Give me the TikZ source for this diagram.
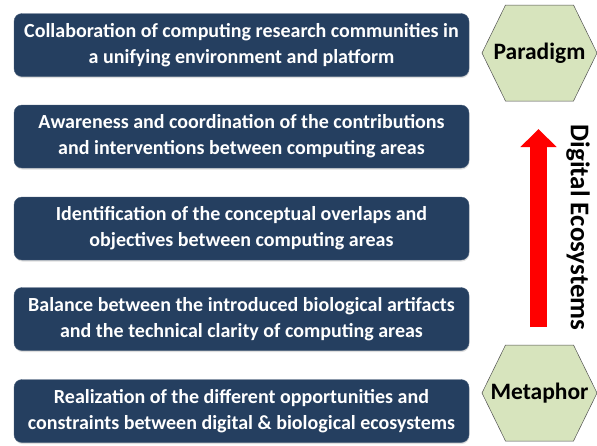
\documentclass[tikz,border=0pt]{standalone}
\usepackage{fontspec}
\setmainfont{Carlito}
\usetikzlibrary{arrows.meta,shadows}

\definecolor{boxblue}{RGB}{37,63,96}
\definecolor{hexgreen}{RGB}{215,228,189}
\definecolor{hexline}{RGB}{80,80,80}

\tikzset{
    levelbox/.style={draw=boxblue!85!white, fill=boxblue, rounded corners=8pt, text=white,
        minimum width=455pt, minimum height=63pt, align=center, inner sep=0pt,
        drop shadow={opacity=0.25, shadow xshift=0.5pt, shadow yshift=-1.5pt},
        font=\fontsize{20}{26}\selectfont\bfseries},
    hexshape/.style={draw=hexline, fill=hexgreen, line width=0.5pt},
    hexlabel/.style={inner sep=0pt, font=\fontsize{23.5}{26}\selectfont\bfseries}
}

\begin{document}
\begin{tikzpicture}[x=1pt,y=-1pt]
    %% The canvas is 597 by 445, one unit is one pixel of the original
    \useasboundingbox (0,0) rectangle (597,445);

    %% The five levels, from top to bottom
    \node[levelbox] (collab) at (241.5,45) {Collaboration of computing research communities in\\a unifying environment and platform};
    \node[levelbox] (aware) at (241.5,136.5) {Awareness and coordination of the contributions\\and interventions between computing areas};
    \node[levelbox] (ident) at (241.5,228.5) {Identification of the conceptual overlaps and\\objectives between computing areas};
    \node[levelbox] (balance) at (241.5,319) {Balance between the introduced biological artifacts\\and the technical clarity of computing areas};
    \node[levelbox] (realize) at (241.5,411) {Realization of the different opportunities and\\constraints between digital \& biological ecosystems};

    %% The two ends of the scale, hexagons first and the words on top
    \draw[hexshape] (482,53) -- (505.5,5) -- (573.5,5) -- (597,53) -- (573.5,101) -- (505.5,101) -- cycle;
    \draw[hexshape] (482,393) -- (505.5,345) -- (573.5,345) -- (597,393) -- (573.5,441) -- (505.5,441) -- cycle;
    \node[hexlabel] (paradigm) at (539.5,53) {Paradigm};
    \node[hexlabel] (metaphor) at (539.5,393) {Metaphor};

    %% The red arrow going up, and its label
    \coordinate (arrowfoot) at (538.5,327);
    \coordinate (arrowtip) at (538.5,129);
    \draw[red, line width=17pt, -{Triangle[length=18pt,width=35pt]}] (arrowfoot) -- (arrowtip);
    \node[rotate=-90, font=\fontsize{27}{30}\selectfont\bfseries] (ecolabel) at (578,227.5) {Digital Ecosystems};
\end{tikzpicture}
\end{document}
